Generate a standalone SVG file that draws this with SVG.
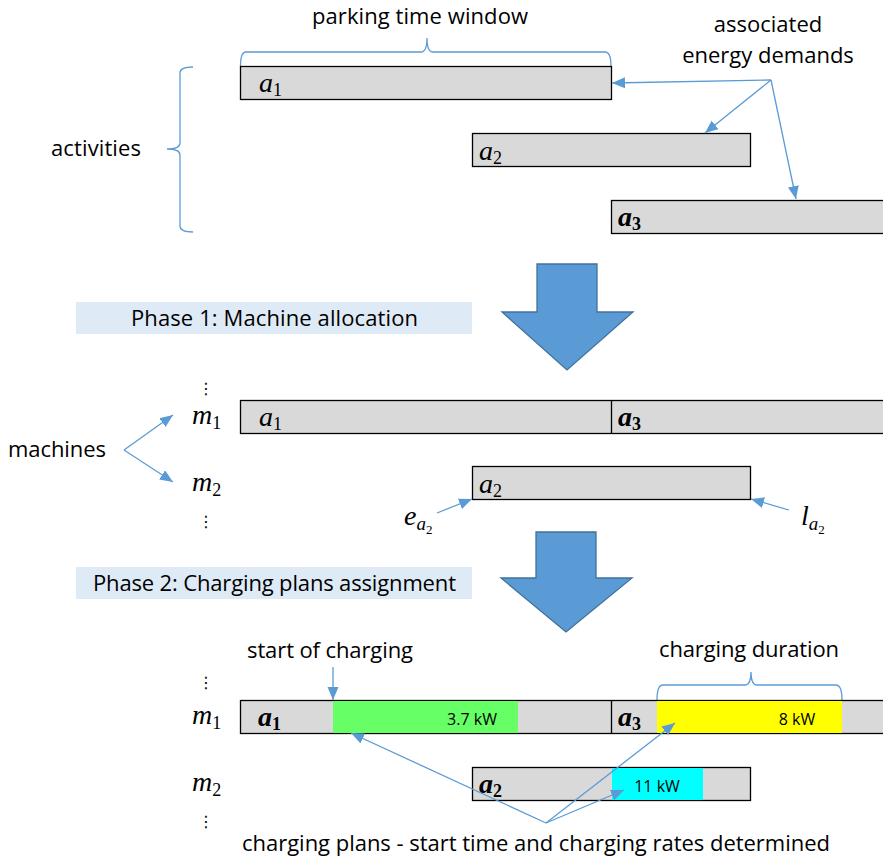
<svg xmlns="http://www.w3.org/2000/svg" width="883" height="866" viewBox="0 0 883 866">
<defs>
<marker id="ah" markerUnits="userSpaceOnUse" markerWidth="14" markerHeight="12" refX="13" refY="5.5" orient="auto">
<path d="M0,0 L13,5.5 L0,11 z" fill="#5B9BD5"/>
</marker>
<style>
.bar{fill:#D9D9D9;stroke:#000;stroke-width:1.3}
.ln{fill:none;stroke:#5B9BD5;stroke-width:1.3}
.arr{fill:none;stroke:#5B9BD5;stroke-width:1.3;marker-end:url(#ah)}
.t{font-family:"Open Sans","Liberation Sans",sans-serif;font-size:22px;fill:#000}
.k{font-family:"Open Sans","Liberation Sans",sans-serif;font-size:16px;fill:#000;text-anchor:middle}
.m{font-family:"Liberation Serif","DejaVu Serif",serif;font-style:italic;font-size:28px;fill:#000}
.mb{font-weight:bold}
.s{font-style:normal;font-size:18px}
.big{fill:#5B9BD5;stroke:#41719C;stroke-width:1.3}
.ph{fill:#DEEBF7}
.dots{font-family:"DejaVu Sans",sans-serif;font-size:16px;fill:#000;text-anchor:middle}
</style>
</defs>

<g id="activities-section">
<g id="label-parking"><text class="t" x="312" y="24" textLength="216">parking time window</text>
<path class="ln" d="M240.5,66 Q240.5,52 246,52 L421,52 Q427,52 427,38 Q427,52 433,52 L605,52 Q611,52 611,66"/></g>
<g id="label-activities"><text class="t" x="51" y="156" textLength="90">activities</text>
<path class="ln" d="M193,67 Q180,67 180,73 L180,143 Q180,149 167,149 Q180,149 180,155 L180,226 Q180,232 193,232"/></g>
<g id="label-energy"><text class="t" x="768" y="32" text-anchor="middle">associated</text>
<text class="t" x="768" y="63" text-anchor="middle">energy demands</text></g>
<g id="a1-top"><rect class="bar" x="240.5" y="66.5" width="371" height="33"/>
<text class="m" x="259" y="92">a<tspan class="s" dy="4">1</tspan></text></g>
<g id="a2-top"><rect class="bar" x="472.5" y="133.5" width="278" height="33"/>
<text class="m" x="479" y="160">a<tspan class="s" dy="4">2</tspan></text></g>
<g id="a3-top"><rect class="bar" x="611.5" y="200.5" width="280" height="33"/>
<text class="m mb" x="618" y="226">a<tspan class="s" dy="4">3</tspan></text></g>
</g>

<g id="phase1">
<polygon class="big" points="537,264 597,264 597,312 633,312 567,370 502,312 537,312"/>
<rect class="ph" x="76" y="302" width="396" height="32"/>
<text class="t" x="131" y="326" textLength="287">Phase 1: Machine allocation</text>
</g>

<g id="machines-section">
<g id="label-machines"><text class="t" x="8" y="457" textLength="98">machines</text></g>
<g id="m1-row">
<text class="dots" x="206" y="394">⋮</text>
<text class="m" x="192" y="424">m<tspan class="s" dy="5">1</tspan></text>
<rect class="bar" x="240.5" y="400.5" width="651" height="33"/>
<line x1="611.5" y1="400.5" x2="611.5" y2="433.5" stroke="#000" stroke-width="1.3"/>
<text class="m" x="259" y="426">a<tspan class="s" dy="4">1</tspan></text>
<text class="m mb" x="618" y="426">a<tspan class="s" dy="4">3</tspan></text>
</g>
<g id="m2-row">
<text class="m" x="192" y="491">m<tspan class="s" dy="5">2</tspan></text>
<text class="dots" x="206" y="527">⋮</text>
<rect class="bar" x="472.5" y="466.5" width="278" height="33"/>
<text class="m" x="479" y="493">a<tspan class="s" dy="4">2</tspan></text>
</g>
<g id="label-e"><text class="m" x="404" y="525" font-size="26">e<tspan font-size="19" dy="5">a</tspan><tspan font-size="13" font-style="normal" dy="4">2</tspan></text></g>
<g id="label-l"><text class="m" x="801" y="525" font-size="26">l<tspan font-size="19" dy="5">a</tspan><tspan font-size="13" font-style="normal" dy="4">2</tspan></text></g>
</g>

<g id="phase2">
<polygon class="big" points="536,532 596,532 596,578 632,578 566,632 501,578 536,578"/>
<rect class="ph" x="76" y="567" width="396" height="32"/>
<text class="t" x="93" y="591" textLength="363">Phase 2: Charging plans assignment</text>
</g>

<g id="plans-section">
<g id="label-start"><text class="t" x="247" y="658" textLength="166">start of charging</text></g>
<g id="label-duration"><text class="t" x="659" y="657" textLength="180">charging duration</text>
<path class="ln" d="M657,700 Q657,685 663,685 L745,685 Q751,685 751,672 Q751,685 757,685 L836,685 Q842,685 842,700"/></g>
<g id="m1-plan">
<text class="dots" x="206" y="688">⋮</text>
<text class="m" x="192" y="724">m<tspan class="s" dy="5">1</tspan></text>
<rect class="bar" x="240.5" y="700.5" width="651" height="33"/>
<rect x="333" y="701" width="185" height="32" fill="#66FF66"/>
<rect x="657" y="701" width="185" height="32" fill="#FFFF00"/>
<line x1="611.5" y1="700.5" x2="611.5" y2="733.5" stroke="#000" stroke-width="1.3"/>
<text class="m mb" x="258" y="726">a<tspan class="s" dy="4">1</tspan></text>
<text class="m mb" x="618" y="726">a<tspan class="s" dy="4">3</tspan></text>
<text class="k" x="472" y="725">3.7 kW</text>
<text class="k" x="797" y="725">8 kW</text>
</g>
<g id="m2-plan">
<text class="m" x="192" y="791">m<tspan class="s" dy="5">2</tspan></text>
<text class="dots" x="206" y="827">⋮</text>
<rect class="bar" x="472.5" y="767.5" width="278" height="33"/>
<rect x="612" y="768" width="91" height="32" fill="#00FFFF"/>
<text class="m mb" x="479" y="793">a<tspan class="s" dy="4">2</tspan></text>
<text class="k" x="657" y="792">11 kW</text>
</g>
<g id="label-plans"><text class="t" x="242" y="851" textLength="588">charging plans - start time and charging rates determined</text></g>
</g>

<g id="connectors">
<line class="arr" x1="771" y1="80" x2="612" y2="83"/>
<line class="arr" x1="771" y1="80" x2="705" y2="133"/>
<line class="arr" x1="771" y1="80" x2="796" y2="199"/>
<line class="arr" x1="124" y1="450" x2="173" y2="415"/>
<line class="arr" x1="124" y1="450" x2="173" y2="482"/>
<line class="arr" x1="437" y1="513" x2="472" y2="499"/>
<line class="arr" x1="789" y1="510" x2="751" y2="499"/>
<line class="arr" x1="333" y1="667" x2="333" y2="700"/>
<line class="arr" x1="546" y1="823" x2="351" y2="733"/>
<line class="arr" x1="546" y1="823" x2="675" y2="723"/>
<line class="arr" x1="546" y1="823" x2="624" y2="790"/>
</g>
</svg>
